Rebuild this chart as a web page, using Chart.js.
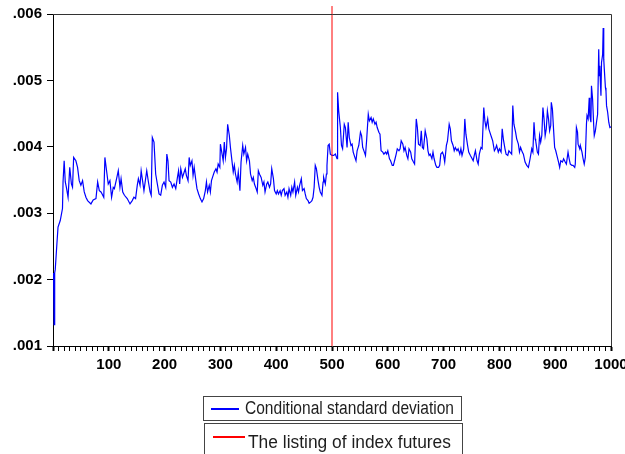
<!DOCTYPE html>
<html>
<head>
<meta charset="utf-8">
<script src="https://cdn.jsdelivr.net/npm/chart.js@4.4.0/dist/chart.umd.min.js"></script>
<style>
  body { margin: 0; background: #fff; }
  #wrap { position: relative; width: 625px; height: 454px; overflow: hidden; }
  #chart { position: absolute; left: 0; top: 0; }
  .lg { position: absolute; border: 1px solid #444; background: transparent;
        font-family: "Liberation Sans", Arial, sans-serif;
        font-size: 18px; line-height: 18px; color: #1e1e1e; }
  .lg .tx { position: absolute; white-space: nowrap; transform-origin: 0 0; }
</style>
</head>
<body>
<div id="wrap">
  <canvas id="chart" width="625" height="454"></canvas>
  <div class="lg" style="left:203px;top:396px;width:257px;height:23px">
    <span class="tx" data-w="209" style="left:41px;top:2px">Conditional standard deviation</span>
  </div>
  <div class="lg" style="left:204px;top:423px;width:257px;height:40px">
    <span class="tx" data-w="203" style="left:43px;top:9px">The listing of index futures</span>
  </div>
</div>
<script>
const obs = [
  1,2,3,4,7,9,13,17,18,20,
  22,24,27,30,33,35,37,41,44,47,
  50,53,56,59,62,68,72,77,80,83,
  86,88,91,93,96,99,102,105,108,110,
  114,117,120,122,125,128,133,138,142,145,
  148,151,153,156,158,163,168,171,174,176,
  178,181,184,187,190,193,196,199,202,204,
  206,208,211,214,217,220,223,225,227,229,
  232,234,237,239,242,244,246,249,251,253,
  256,258,261,264,267,270,273,275,277,280,
  282,284,287,289,292,294,296,299,300,303,
  305,307,309,311,313,316,318,320,323,325,
  327,330,332,335,337,340,342,345,347,349,
  352,354,357,359,361,364,366,368,371,373,
  376,378,380,383,385,388,390,392,395,397,
  400,402,404,407,409,411,414,416,419,421,
  423,426,428,430,433,435,438,440,442,445,
  447,450,452,454,457,459,462,464,466,468,
  470,472,475,477,479,482,484,485,488,490,
  491,493,495,497,500,503,506,509,510,512,
  515,517,519,522,524,527,529,531,534,536,
  538,541,543,545,548,551,553,555,558,560,
  562,565,567,570,572,574,577,579,581,584,
  586,588,591,593,596,598,600,603,605,608,
  610,613,615,617,620,622,624,627,629,631,
  634,636,638,641,643,646,648,651,653,655,
  658,660,662,664,667,670,672,674,676,679,
  681,683,686,688,691,693,695,698,700,702,
  705,707,710,712,714,717,719,721,724,726,
  729,731,733,736,738,740,743,745,748,750,
  753,755,757,760,762,764,767,769,772,774,
  776,779,781,784,786,788,791,793,795,798,
  800,803,805,807,810,812,815,817,819,822,
  824,826,829,831,834,836,838,841,843,846,
  849,852,855,858,860,862,864,865,868,870,
  872,874,876,878,880,882,884,886,888,890,
  892,893,895,897,899,901,903,906,908,910,
  913,915,918,920,923,925,927,930,932,935,
  936,938,940,941,944,945,948,950,952,954,
  956,957,959,961,962,964,965,967,969,970,
  972,974,976,978,979,980,981,982,983,985,
  986,987,988,990,991,992,994,996,998,1000
];

const condSd = [
  .00210,.00132,.00210,.00215,.00254,.00279,.00289,.00307,.00347,.00379,
  .00347,.00339,.00324,.00369,.00344,.00339,.00384,.00379,.00369,.00349,
  .00342,.00349,.00332,.00324,.00319,.00314,.00320,.00322,.00347,.00334,
  .00332,.00329,.00324,.00384,.00364,.00344,.00349,.00324,.00339,.00337,
  .00352,.00364,.00339,.00352,.00332,.00327,.00322,.00314,.00319,.00324,
  .00322,.00342,.00352,.00342,.00364,.00334,.00364,.00347,.00332,.00327,
  .00414,.00407,.00359,.00344,.00329,.00327,.00342,.00347,.00339,.00389,
  .00379,.00349,.00347,.00339,.00344,.00337,.00354,.00364,.00344,.00367,
  .00354,.00359,.00367,.00357,.00349,.00384,.00372,.00379,.00357,.00369,
  .00349,.00337,.00329,.00322,.00317,.00322,.00334,.00347,.00332,.00342,
  .00332,.00349,.00357,.00362,.00367,.00362,.00374,.00369,.00404,.00389,
  .00379,.00407,.00384,.00397,.00434,.00417,.00399,.00384,.00362,.00372,
  .00359,.00347,.00362,.00334,.00377,.00402,.00389,.00399,.00379,.00389,
  .00379,.00359,.00349,.00354,.00344,.00337,.00332,.00364,.00357,.00354,
  .00342,.00347,.00332,.00344,.00347,.00339,.00344,.00367,.00352,.00334,
  .00329,.00334,.00329,.00334,.00327,.00334,.00337,.00327,.00332,.00324,
  .00337,.00327,.00339,.00332,.00347,.00327,.00339,.00332,.00342,.00352,
  .00334,.00337,.00329,.00322,.00319,.00315,.00317,.00319,.00324,.00339,
  .00372,.00367,.00349,.00339,.00332,.00327,.00347,.00354,.00344,.00359,
  .00372,.00402,.00404,.00389,.00387,.00387,.00389,.00382,.00482,.00454,
  .00429,.00402,.00397,.00434,.00429,.00399,.00437,.00414,.00402,.00404,
  .00392,.00384,.00379,.00394,.00402,.00422,.00417,.00399,.00392,.00387,
  .00409,.00449,.00439,.00444,.00437,.00442,.00434,.00437,.00429,.00422,
  .00419,.00394,.00392,.00389,.00392,.00389,.00394,.00382,.00379,.00372,
  .00372,.00382,.00389,.00397,.00394,.00397,.00409,.00404,.00394,.00399,
  .00387,.00382,.00397,.00392,.00382,.00377,.00374,.00442,.00429,.00404,
  .00402,.00424,.00399,.00397,.00424,.00412,.00394,.00387,.00389,.00382,
  .00392,.00382,.00372,.00369,.00369,.00372,.00389,.00392,.00387,.00377,
  .00402,.00409,.00434,.00427,.00409,.00402,.00394,.00399,.00394,.00397,
  .00389,.00397,.00387,.00397,.00442,.00419,.00402,.00392,.00387,.00384,
  .00379,.00387,.00394,.00379,.00374,.00389,.00399,.00397,.00459,.00439,
  .00429,.00442,.00427,.00419,.00414,.00409,.00394,.00397,.00402,.00392,
  .00397,.00392,.00427,.00412,.00397,.00389,.00387,.00394,.00392,.00389,
  .00462,.00434,.00422,.00412,.00404,.00392,.00399,.00392,.00389,.00377,
  .00372,.00369,.00382,.00397,.00392,.00437,.00412,.00409,.00392,.00389,
  .00417,.00407,.00417,.00459,.00442,.00417,.00427,.00454,.00442,.00424,
  .00432,.00467,.00457,.00427,.00399,.00394,.00387,.00377,.00369,.00379,
  .00377,.00382,.00377,.00374,.00392,.00382,.00374,.00372,.00372,.00369,
  .00374,.00429,.00422,.00404,.00397,.00402,.00392,.00382,.00374,.00384,
  .00434,.00447,.00442,.00474,.00447,.00437,.00492,.00472,.00432,.00417,
  .00424,.00437,.00449,.00547,.00507,.00522,.00497,.00477,.00527,.00539,
  .00579,.00532,.00517,.00489,.00484,.00462,.00452,.00437,.00429,.00430
];

// vertical marker: observation where index futures were listed
const listingObs = 500;
const listingSpan = [0.001, 0.00612];

const yMin = 0.001, yMax = 0.006, yStep = 0.001;
const xMin = 0, xMax = 1000, xMinorStep = 10, xLabelStep = 100;

const tickFont = { family: "Liberation Sans, Arial, sans-serif", size: 15, weight: "bold" };

// squeeze legend texts to the reference widths
document.querySelectorAll(".lg .tx").forEach(el => {
  const target = parseFloat(el.dataset.w);
  const w = el.getBoundingClientRect().width;
  if (w > 0) el.style.transform = "scaleX(" + (target / w).toFixed(3) + ")";
});

// frame around the plot area (top / right edges) + legend swatches
const plotFrame = {
  id: "plotFrame",
  afterDraw(chart) {
    const a = chart.chartArea;
    const ctx = chart.ctx;
    ctx.save();
    ctx.strokeStyle = "#333";
    ctx.lineWidth = 1;
    ctx.beginPath();
    ctx.moveTo(a.left, a.top + 0.5);
    ctx.lineTo(a.right + 0.5, a.top + 0.5);
    ctx.lineTo(a.right + 0.5, a.bottom);
    ctx.stroke();

    // legend line samples, under the html legend boxes
    const sw = [
      { ds: 1, x0: 211, x1: 239, y: 409 },
      { ds: 0, x0: 213, x1: 245, y: 437 },
    ];
    ctx.lineWidth = 2;
    sw.forEach(s => {
      ctx.strokeStyle = chart.data.datasets[s.ds].borderColor;
      ctx.beginPath();
      ctx.moveTo(s.x0, s.y);
      ctx.lineTo(s.x1, s.y);
      ctx.stroke();
    });
    ctx.restore();
  }
};

const chart = new Chart(document.getElementById("chart"), {
  type: "line",
  data: {
    datasets: [
      {
        label: "The listing of index futures",
        data: listingSpan.map(v => ({ x: listingObs, y: v })),
        borderColor: "#ff0000",
        borderWidth: 1,
        pointRadius: 0,
        clip: false,
        order: 0,
      },
      {
        label: "Conditional standard deviation",
        data: obs.map((x, i) => ({ x: x, y: condSd[i] })),
        borderColor: "#0000ff",
        borderWidth: 1.2,
        pointRadius: 0,
        tension: 0,
        order: 1,
      },
    ],
  },
  options: {
    responsive: false,
    animation: false,
    layout: { padding: { top: 13, right: 14, left: 0, bottom: 0 } },
    plugins: { legend: { display: false }, tooltip: { enabled: false } },
    scales: {
      x: {
        type: "linear",
        min: xMin,
        max: xMax,
        afterFit: s => { s.height = 108; s.paddingLeft = 0; s.paddingRight = 0; },
        border: { display: true, color: "#000", width: 1 },
        grid: {
          drawOnChartArea: false,
          drawTicks: true,
          tickLength: 5,
          tickColor: "#000",
          tickWidth: ctx => (ctx.tick && ctx.tick.value % xLabelStep === 0 ? 2 : 1),
        },
        ticks: {
          stepSize: xMinorStep,
          autoSkip: false,
          maxRotation: 0,
          padding: 5,
          color: "#000",
          font: tickFont,
          callback: v => (v % xLabelStep === 0 && v > 0 ? String(v) : ""),
        },
      },
      y: {
        min: yMin,
        max: yMax,
        afterFit: s => { s.width = 53; },
        border: { display: true, color: "#000", width: 1 },
        grid: { drawOnChartArea: false, drawTicks: true, tickLength: 6, tickColor: "#000" },
        ticks: {
          stepSize: yStep,
          padding: 5,
          color: "#000",
          font: tickFont,
          callback: v => v.toFixed(3).slice(1),
        },
      },
    },
  },
  plugins: [plotFrame],
});
</script>
</body>
</html>
